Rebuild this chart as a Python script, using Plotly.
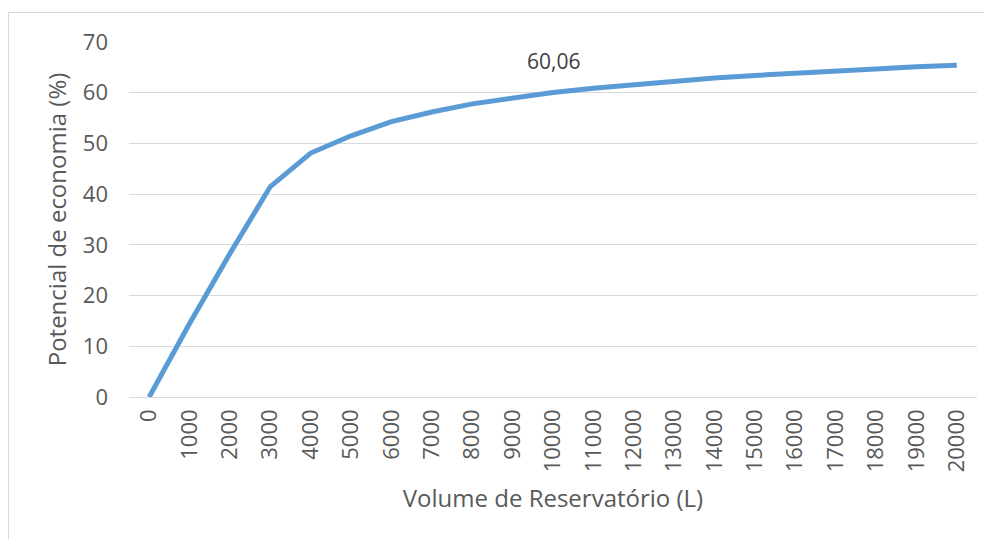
import plotly.graph_objects as go

volumes = [str(v) for v in range(0, 20001, 1000)]
economia = [0, 14.5, 28.3, 41.5, 48.1, 51.5, 54.3, 56.2, 57.8, 59.0, 60.06,
            60.9, 61.6, 62.3, 62.9, 63.4, 63.9, 64.3, 64.7, 65.1, 65.4]
label_idx = 10
label_text = "60,06"

W, H = 992, 539
L, T = 121, 34
pw, ph = 848, 355
R, B = W - L - pw, H - T - ph

FONT = "Open Sans, sans-serif"
GRAY = "#595959"

fig = go.Figure()
fig.add_trace(go.Scatter(
    x=list(range(len(volumes))), y=economia, mode="lines",
    line=dict(color="#5b9bd5", width=5), cliponaxis=False,
    hoverinfo="skip", showlegend=False))

fig.add_annotation(x=label_idx, y=economia[label_idx], text=label_text,
                   showarrow=False, yshift=31,
                   font=dict(family=FONT, size=21, color="#404040"))

# outer chart frame
fig.add_shape(type="rect", xref="paper", yref="paper",
              x0=(0.5 - L) / pw, x1=(W + 20 - L) / pw,
              y0=-(B + 20) / ph, y1=(T + ph - 4.5) / ph,
              line=dict(color="#d9d9d9", width=1), layer="below")

fig.update_layout(
    width=W, height=H, margin=dict(l=L, r=R, t=T, b=B),
    paper_bgcolor="white", plot_bgcolor="white",
    font=dict(family=FONT, color=GRAY, size=22),
    xaxis=dict(
        tickmode="array", tickvals=list(range(len(volumes))), ticktext=volumes,
        range=[-0.5, len(volumes) - 0.5], tickangle=-90, showgrid=False,
        showline=False, zeroline=False, ticks="", ticklabelstandoff=7,
        title=dict(text="Volume de Reservatório (L)", standoff=18,
                   font=dict(size=24, color=GRAY)),
        tickfont=dict(size=22, color=GRAY)),
    yaxis=dict(
        range=[0, 70], tickvals=list(range(0, 71, 10)), showgrid=True,
        gridcolor="#d9d9d9", gridwidth=1, zeroline=True, zerolinecolor="#d9d9d9",
        zerolinewidth=1, showline=False, ticks="", ticklabelstandoff=20,
        title=dict(text="Potencial de economia (%)", standoff=9,
                   font=dict(size=24, color=GRAY)),
        tickfont=dict(size=22, color=GRAY)),
)

fig.write_html("out.html")
